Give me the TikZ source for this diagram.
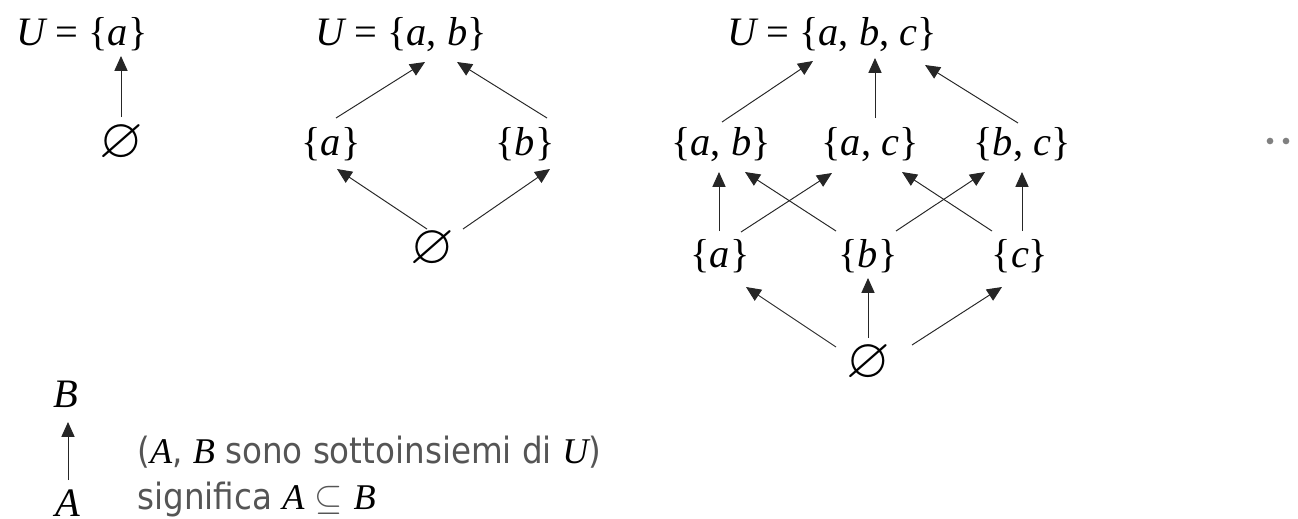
\documentclass[tikz,border=0pt]{standalone}
\usepackage{fontspec}
\usepackage{amssymb}
\setmainfont{Liberation Serif}
\newfontfamily\notefont{DejaVu Sans Condensed}
\usetikzlibrary{arrows.meta,calc}

\definecolor{notegray}{RGB}{85,85,85}
\newcommand{\vb}[1]{{\rmfamily\itshape\color{black}#1}}

\tikzset{
  set/.style={anchor=base,inner sep=0pt,font=\fontsize{23}{27}\selectfont},
  empty/.style={inner sep=0pt,font=\fontsize{32}{36}\selectfont},
  sub/.style={-{Triangle[length=8.5pt,width=7.5pt]},line width=0.55pt,black!85},
  note/.style={anchor=base west,inner sep=0pt,text=notegray,
    font=\notefont\fontsize{20.6}{24}\selectfont}
}

\begin{document}
\begin{tikzpicture}[x=0.02cm,y=-0.02cm]
\useasboundingbox (0,0) rectangle (1298,518);

% U = {a}
\node[set] (U1) at (82,45) {\vb{U} = \{\vb{a}\}};
\node[empty] (e1) at (121,143) {$\varnothing$};

\draw[sub] ($(e1)+(0,-26)$) -- ($(U1.base)+(39,11)$);

% U = {a, b}
\node[set] (U2) at (401,45) {\vb{U} = \{\vb{a}, \vb{b}\}};
\node[set] (a2) at (331,155) {\{\vb{a}\}};
\node[set] (b2) at (525,155) {\{\vb{b}\}};
\node[empty] (e2) at (432,249) {$\varnothing$};

\draw[sub] ($(a2.base)+(5,-37)$) -- ($(U2.base)+(24,17)$);
\draw[sub] ($(b2.base)+(22,-37)$) -- ($(U2.base)+(56,17)$);
\draw[sub] ($(e2)+(-5,-20)$) -- ($(a2.base)+(6,14)$);
\draw[sub] ($(e2)+(31,-20)$) -- ($(b2.base)+(25,14)$);

% U = {a, b, c}
\node[set] (U3) at (832,45) {\vb{U} = \{\vb{a}, \vb{b}, \vb{c}\}};
\node[set] (ab) at (721,155) {\{\vb{a}, \vb{b}\}};
\node[set] (ac) at (870,155) {\{\vb{a}, \vb{c}\}};
\node[set] (bc) at (1022,155) {\{\vb{b}, \vb{c}\}};
\node[set] (a3) at (720,267) {\{\vb{a}\}};
\node[set] (b3) at (868,267) {\{\vb{b}\}};
\node[set] (c3) at (1020,267) {\{\vb{c}\}};
\node[empty] (e3) at (868,363) {$\varnothing$};

\draw[sub] ($(ab.base)+(1,-33)$) -- ($(U3.base)+(-19,16)$);
\draw[sub] ($(ac.base)+(5,-37)$) -- ($(U3.base)+(43,13)$);
\draw[sub] ($(bc.base)+(-4,-32)$) -- ($(U3.base)+(93,20)$);

\draw[sub] ($(a3.base)+(-1,-36)$) -- ($(ab.base)+(-2,17)$);
\draw[sub] ($(a3.base)+(21,-35)$) -- ($(ac.base)+(-38,18)$);
\draw[sub] ($(b3.base)+(-32,-36)$) -- ($(ab.base)+(24,17)$);
\draw[sub] ($(b3.base)+(28,-36)$) -- ($(bc.base)+(-37,17)$);
\draw[sub] ($(c3.base)+(-28,-36)$) -- ($(ac.base)+(32,17)$);
\draw[sub] ($(c3.base)+(2,-36)$) -- ($(bc.base)+(0,17)$);

\draw[sub] ($(e3)+(-32,-16)$) -- ($(a3.base)+(26,20)$);
\draw[sub] ($(e3)+(0,-25)$) -- ($(b3.base)+(0,11)$);
\draw[sub] ($(e3)+(44,-18)$) -- ($(c3.base)+(-18,20)$);

% puntini
\fill[gray] (1270,141) circle (1.9pt);
\fill[gray] (1286,141) circle (1.9pt);

% legenda
\node[set] (B) at (66,407) {\vb{B}};
\node[set] (A) at (68,516) {\vb{A}};

\draw[sub] ($(A.base)+(0,-36)$) -- ($(B.base)+(2,15)$);

\node[note] (n1) at (137,463)
{(\vb{A}, \vb{B} sono sottoinsiemi di \vb{U})};

\node[note] (n2) at (137,509)
{significa \vb{A} $\subseteq$ \vb{B}};

\end{tikzpicture}
\end{document}
